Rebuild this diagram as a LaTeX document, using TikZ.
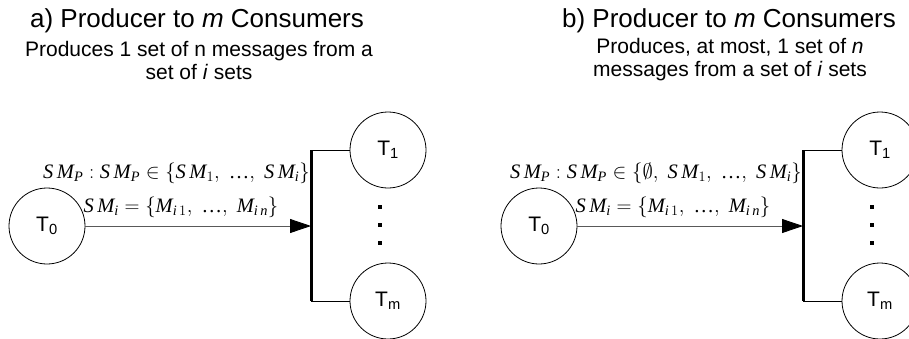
\documentclass[tikz,border=0pt]{standalone}
\usepackage{amsmath}
\usepackage{fontspec}
\setmainfont{Liberation Sans}
\newfontfamily\mtimes{Liberation Serif}
\newcommand\vv[1]{\text{\mtimes\itshape #1}}
\newcommand\vsm{\vv{S}\,\vv{M}}
\newcommand\vdotsx{\text{\mtimes …}}
\usetikzlibrary{arrows.meta}
\begin{document}
\begin{tikzpicture}[x=1pt,y=-1pt,
  task/.style={circle,draw,line width=0.8pt,minimum size=76pt,inner sep=0pt,font=\fontsize{21}{24}\selectfont},
  busbar/.style={line width=3pt},
  link/.style={line width=0.8pt},
  flow/.style={line width=0.8pt,draw=black!65,-{Triangle[length=21pt,width=14pt,color=black]}},
  title/.style={font=\fontsize{26}{30}\selectfont},
  subtitle/.style={align=center,font=\fontsize{21}{23}\selectfont},
  mathlbl/.style={inner sep=0pt,text=black,font=\fontsize{20.5}{24}\selectfont},
  dot/.style={fill=black}]
\useasboundingbox (0,0) rectangle (909,338);

% ---------- a) ----------
\node[title] (ta) at (197,21) {a) Producer to \textit{m} Consumers};
\node[subtitle] (sa) at (199,60) {Produces 1 set of n messages from a\\set of \textit{i} sets};
\coordinate (abt) at (311,150);
\coordinate (abb) at (311,301);
\coordinate (abm) at (311,226);
\draw[busbar] (abt) -- (abb);
\node[task] (a0) at (47,226) {T\textsubscript{0}};
\node[task] (a1) at (388,150) {T\textsubscript{1}};
\node[task] (am) at (388,301) {T\textsubscript{m}};
\draw[flow] (a0) -- (abm);
\draw[link] (abt) -- (a1);
\draw[link] (abb) -- (am);
\node[mathlbl,anchor=east] (la1) at (310,173) {$\vsm_{\vv{P}} : \vsm_{\vv{P}} \in \{\vsm_{1},\ \vdotsx,\ \vsm_{\vv{i}}\}$};
\node[mathlbl] (la2) at (181,207) {$\vsm_{\vv{i}} = \{\vv{M}_{\vv{i}\,1},\ \vdotsx,\ \vv{M}_{\vv{i}\,\vv{n}}\}$};
\fill[dot] (378,205) rectangle (382,209);
\fill[dot] (378,223) rectangle (382,227);
\fill[dot] (378,241) rectangle (382,245);

% ---------- b) ----------
\node[title] (tb) at (729,21) {b) Producer to \textit{m} Consumers};
\node[subtitle] (sb) at (730,60) {Produces, at most, 1 set of \textit{n}\\messages from a set of \textit{i} sets};
\coordinate (bbt) at (803,150);
\coordinate (bbb) at (803,301);
\coordinate (bbm) at (803,226);
\draw[busbar] (bbt) -- (bbb);
\node[task] (b0) at (539,226) {T\textsubscript{0}};
\node[task] (b1) at (880,150) {T\textsubscript{1}};
\node[task] (bm) at (880,301) {T\textsubscript{m}};
\draw[flow] (b0) -- (bbm);
\draw[link] (bbt) -- (b1);
\draw[link] (bbb) -- (bm);
\node[mathlbl,anchor=east] (lb1) at (802,173) {$\vsm_{\vv{P}} : \vsm_{\vv{P}} \in \{\emptyset,\ \vsm_{1},\ \vdotsx,\ \vsm_{\vv{i}}\}$};
\node[mathlbl] (lb2) at (673,207) {$\vsm_{\vv{i}} = \{\vv{M}_{\vv{i}\,1},\ \vdotsx,\ \vv{M}_{\vv{i}\,\vv{n}}\}$};
\fill[dot] (870,205) rectangle (874,209);
\fill[dot] (870,223) rectangle (874,227);
\fill[dot] (870,241) rectangle (874,245);
\end{tikzpicture}
\end{document}
